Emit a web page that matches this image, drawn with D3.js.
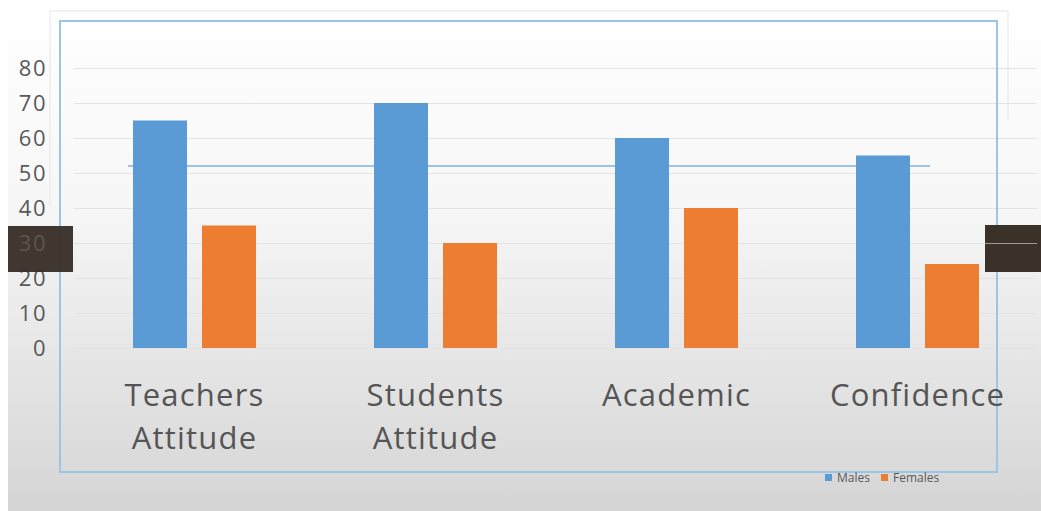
<!DOCTYPE html>
<html><head><meta charset="utf-8">
<script src="https://cdn.jsdelivr.net/npm/d3@7"></script>
<style>html,body{margin:0;padding:0;background:#fff;overflow:hidden}</style>
</head><body>
<svg id="c" width="1041" height="511"></svg>
<script>
const categories = [["Teachers","Attitude"],["Students","Attitude"],["Academic"],["Confidence"]];
const seriesNames = ["Males","Females"];
const males = [65, 70, 60, 55];
const females = [35, 30, 40, 24];
const yTicks = [0,10,20,30,40,50,60,70,80];
const refLineValue = 52;
const colors = ["#5b9bd5","#ed7d31"];

const svg = d3.select("#c");
const defs = svg.append("defs");
const g = defs.append("linearGradient").attr("id","bg").attr("x1",0).attr("y1",0).attr("x2",0).attr("y2",1);
g.append("stop").attr("offset","0%").attr("stop-color","#ffffff");
g.append("stop").attr("offset","40%").attr("stop-color","#f7f7f7");
g.append("stop").attr("offset","100%").attr("stop-color","#d5d5d5");
svg.append("rect").attr("x",8).attr("y",0).attr("width",1033).attr("height",511).attr("fill","url(#bg)");

// faint ghost rectangle
svg.append("path").attr("d","M50,205 V11 H1008 V120").attr("fill","none").attr("stroke","#e6e6e6").attr("stroke-width",1);

const y = d3.scaleLinear().domain([0,80]).range([348,68]);
const x0 = d3.scaleBand().domain(d3.range(categories.length)).range([74,1038]);
const x1 = d3.scaleBand().domain([0,1]).range([59,182]).paddingInner(0.2174);

// gridlines
svg.append("g").selectAll("line").data(yTicks).join("line")
  .attr("x1",74).attr("x2",1037).attr("y1",d=>y(d)+0.5).attr("y2",d=>y(d)+0.5)
  .attr("stroke","#e3e3e3").attr("stroke-width",1);

// y axis labels
const yAxis = d3.axisLeft(y).tickValues(yTicks).tickSize(0).tickPadding(0);
const ya = svg.append("g").attr("transform","translate(47,0)").call(yAxis);
ya.select(".domain").remove();
ya.selectAll("text").attr("font-family","'Open Sans',sans-serif").attr("font-size",22).attr("letter-spacing","1.5px").attr("fill","#595959").attr("dy","0.36em");

// reference line (behind bars)
svg.append("line").attr("x1",128).attr("x2",930).attr("y1",y(refLineValue)).attr("y2",y(refLineValue))
  .attr("stroke","#9dc3e6").attr("stroke-width",2);

// bars
const data = categories.map((c,i)=>[males[i],females[i]]);
const grp = svg.append("g").selectAll("g").data(data).join("g")
  .attr("transform",(d,i)=>`translate(${x0(i)},0)`);
grp.selectAll("rect").data(d=>d).join("rect")
  .attr("x",(d,j)=>x1(j)).attr("width",x1.bandwidth())
  .attr("y",d=>y(d)).attr("height",d=>y(0)-y(d))
  .attr("fill",(d,j)=>colors[j]);

// blue border rectangle
svg.append("rect").attr("x",60).attr("y",21).attr("width",937).attr("height",451)
  .attr("fill","none").attr("stroke","#9dc3e6").attr("stroke-width",2);

// category labels
const cl = svg.append("g").selectAll("text").data(categories).join("text")
  .attr("x",(d,i)=>x0(i)+x0.bandwidth()/2).attr("y",406)
  .attr("text-anchor","middle").attr("font-family","'Open Sans',sans-serif").attr("font-size",31)
  .attr("letter-spacing","1.2px").attr("fill","#555555");
cl.selectAll("tspan").data(d=>d).join("tspan")
  .attr("x",function(){return this.parentNode.getAttribute("x");})
  .attr("dy",(d,k)=>k===0?0:43).text(d=>d);

// dark boxes
svg.append("rect").attr("x",8).attr("y",226).attr("width",65).attr("height",46).attr("fill","#3a3129").attr("opacity",0.97);
svg.append("rect").attr("x",985).attr("y",225).attr("width",56).attr("height",47).attr("fill","#3a3129");
svg.append("line").attr("x1",985).attr("x2",1037).attr("y1",243.5).attr("y2",243.5).attr("stroke","#a09a94").attr("stroke-width",1);
// dim "30" showing through left box
svg.append("text").attr("x",47).attr("y",y(30)).attr("dy","0.36em").attr("text-anchor","end")
  .attr("font-family","'Open Sans',sans-serif").attr("font-size",22).attr("letter-spacing","1.5px").attr("fill","#5e5750").text("30");

// legend
const lg = svg.append("g").attr("font-family","'Open Sans',sans-serif").attr("font-size",12).attr("fill","#595959");
const legX = [825, 881];
seriesNames.forEach((s,i)=>{
  lg.append("rect").attr("x",legX[i]).attr("y",474).attr("width",7).attr("height",7).attr("fill",colors[i]);
  lg.append("text").attr("x",legX[i]+12).attr("y",482).text(s);
});
</script>
</body></html>
